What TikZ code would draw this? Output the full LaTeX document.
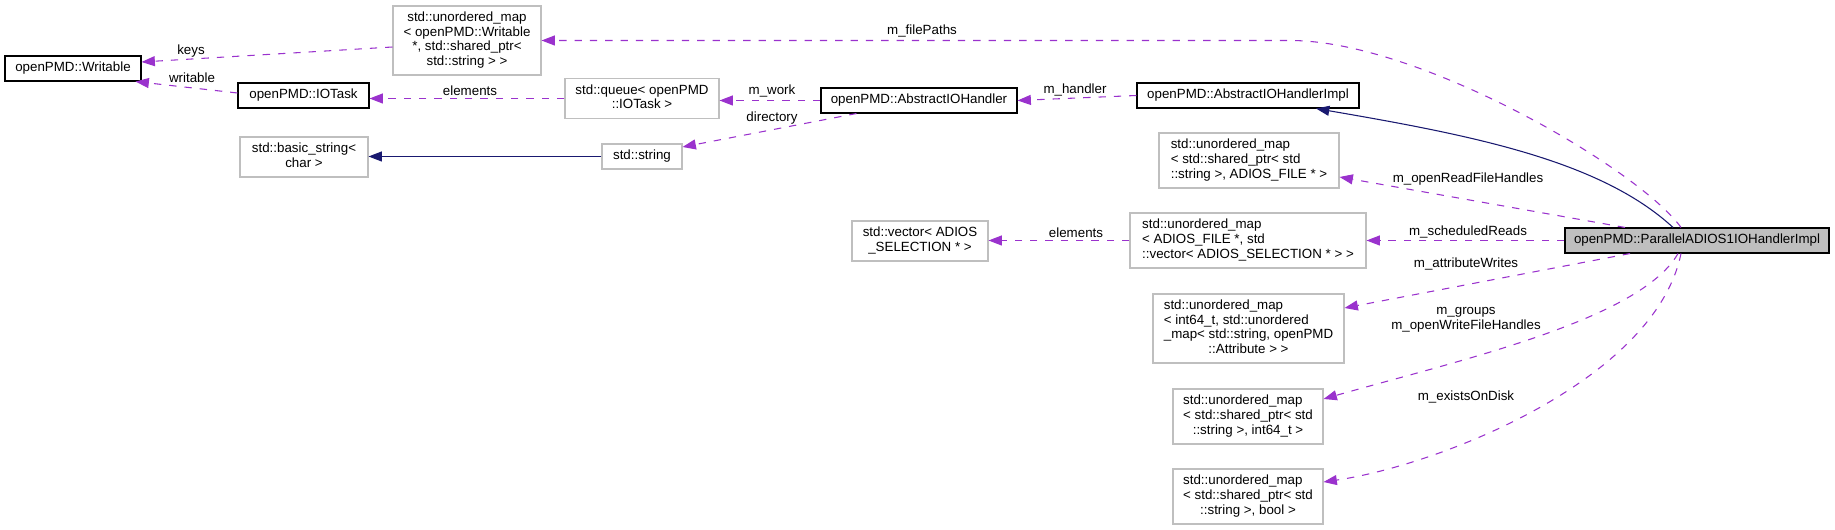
\documentclass[tikz,border=0pt]{standalone}
\usepackage{fontspec}
\setmainfont{Liberation Sans}
\usetikzlibrary{arrows.meta,calc}
\definecolor{usepurple}{HTML}{9A32CD}
\definecolor{basenavy}{HTML}{191970}
\definecolor{boxgray}{HTML}{BFBFBF}
\newcommand{\clines}[1]{\begin{tabular}{@{}c@{}}#1\end{tabular}}
\newcommand{\llines}[2]{\begin{tabular}{@{}l@{}}#1\\\multicolumn{1}{@{}c@{}}{#2}\end{tabular}}
\tikzset{
  cls/.style={draw=black, line width=0.8pt, inner sep=0pt, font=\fontsize{10}{11}\selectfont},
  ext/.style={draw=boxgray, line width=0.8pt, inner sep=0pt, font=\fontsize{10}{11}\selectfont},
  boxsize/.style n args={2}{minimum width=#1*0.75pt, minimum height=#2*0.75pt},
  usage/.style={usepurple, line width=0.8pt, dash pattern=on 5.5pt off 6pt, -{Triangle[length=10pt, width=7.5pt]}},
  inherits/.style={basenavy, line width=0.8pt, -{Triangle[length=10pt, width=7.5pt]}},
  elabel/.style={inner sep=0pt, font=\fontsize{10}{11}\selectfont}
}
\begin{document}
\begin{tikzpicture}[x = 0.75pt, y = -0.75pt]
\useasboundingbox (0,0) rectangle (1835,530);
\node[cls, boxsize={136}{25}] (writable) at (73,68.5) {openPMD::Writable};
\node[ext, boxsize={148}{69}] (filemap) at (467,40.5) {\clines{std::unordered\_map\\< openPMD::Writable\\{}*, std::shared\_ptr<\\std::string > >}};
\node[cls, boxsize={131}{25}] (iotask) at (303.5,95.5) {openPMD::IOTask};
\node[ext, boxsize={154}{40}] (queue) at (642,98.5) {\clines{std::queue< openPMD\\::IOTask >}};
\node[cls, boxsize={196}{25}] (handler) at (919,100.5) {openPMD::AbstractIOHandler};
\node[ext, boxsize={128}{40}] (basicstr) at (304,157) {\clines{std::basic\_string<\\char >}};
\node[ext, boxsize={80}{25}] (string) at (642,156.5) {std::string};
\node[cls, boxsize={222}{25}] (handlerimpl) at (1248,95.5) {openPMD::AbstractIOHandlerImpl};
\node[ext, boxsize={180}{55}] (readhandles) at (1249,160.5) {\llines{std::unordered\_map\\< std::shared\_ptr< std}{::string >, ADIOS\_FILE * >}};
\node[ext, boxsize={136}{40}] (selvector) at (920,241) {\clines{std::vector< ADIOS\\\_SELECTION * >}};
\node[ext, boxsize={236}{55}] (schedreads) at (1248,240.5) {\llines{std::unordered\_map\\< ADIOS\_FILE *, std}{::vector< ADIOS\_SELECTION * > >}};
\node[cls, fill=boxgray, boxsize={264}{25}] (parallel) at (1697,240.5) {openPMD::ParallelADIOS1IOHandlerImpl};
\node[ext, boxsize={191}{69}] (attrwrites) at (1248.5,328.5) {\llines{std::unordered\_map\\< int64\_t, std::unordered\\\_map< std::string, openPMD}{::Attribute > >}};
\node[ext, boxsize={150}{55}] (groups) at (1248,416.5) {\llines{std::unordered\_map\\< std::shared\_ptr< std}{::string >, int64\_t >}};
\node[ext, boxsize={150}{55}] (exists) at (1248,496.5) {\llines{std::unordered\_map\\< std::shared\_ptr< std}{::string >, bool >}};
\draw[usage] ($(filemap.west)+(0,6.5)$) -- ($(writable.east)+(0,-6.5)$);
\draw[usage] ($(iotask.west)+(0,-2.5)$) -- ($(writable.south east)+(-6,0)$);
\draw[usage] (queue.west) -- (iotask.east |- queue.west);
\draw[usage] (handler.west) -- (queue.east |- handler.west);
\draw[usage] ($(handler.south west)+(36,0)$) -- ($(string.east)+(0,-9.5)$);
\draw[inherits] (string.west) -- (basicstr.east |- string.west);
\draw[usage] (handlerimpl.west) -- (handler.east);
\draw[usage] ($(parallel.north)+(-16,0)$) .. controls (1640,170) and (1420,40.5) .. (1290,0 |- filemap.east) -- (filemap.east);
\draw[inherits] ($(parallel.north)+(-24,0)$) .. controls (1600,160) and (1470,135) .. ($(handlerimpl.south)+(68,0)$);
\draw[usage] ($(parallel.north)+(-72,0)$) -- ($(readhandles.east)+(0,16.5)$);
\draw[usage] (parallel.west) -- (schedreads.east);
\draw[usage] (schedreads.west) -- (selvector.east |- schedreads.west);
\draw[usage] ($(parallel.south)+(-67,0)$) -- ($(attrwrites.east)+(0,-20.5)$);
\draw[usage] ($(parallel.south)+(-19,0)$) .. controls (1640,320) and (1460,360) .. ($(groups.east)+(0,-17.5)$);
\draw[usage] ($(parallel.south)+(-16,0)$) .. controls (1655,380) and (1440,465) .. ($(exists.east)+(0,-14.5)$);
\node[elabel] (lfilepaths) at (922,31) {m\_filePaths};
\node[elabel] (lkeys) at (191,51) {keys};
\node[elabel] (lwritable) at (192,78) {writable};
\node[elabel] (lelements) at (470,91) {elements};
\node[elabel] (lwork) at (772,91) {m\_work};
\node[elabel] (ldirectory) at (772,118) {directory};
\node[elabel] (lhandler) at (1075,90) {m\_handler};
\node[elabel] (lreadhandles) at (1468,179) {m\_openReadFileHandles};
\node[elabel] (lschedreads) at (1468,232) {m\_scheduledReads};
\node[elabel] (lselements) at (1076,233) {elements};
\node[elabel] (lattrwrites) at (1466,264) {m\_attributeWrites};
\node[elabel, align=center] (lgroups) at (1466,320) {m\_groups\\m\_openWriteFileHandles};
\node[elabel] (lexists) at (1466,397) {m\_existsOnDisk};
\end{tikzpicture}
\end{document}
